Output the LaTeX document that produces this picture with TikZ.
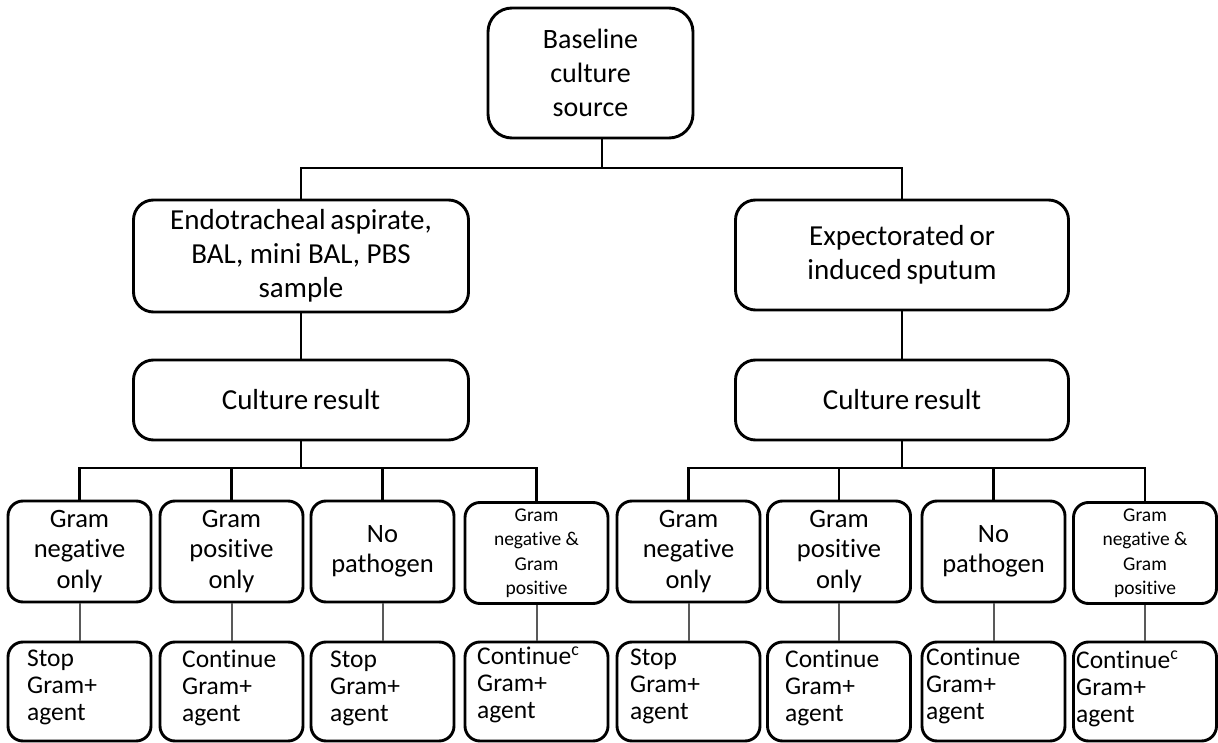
\documentclass[tikz,border=0pt]{standalone}
\usepackage{fontspec}
\setmainfont{Carlito}[Ligatures=NoCommon]
\usetikzlibrary{calc}
\begin{document}
\begin{tikzpicture}[x=1pt,y=-1pt,
  bx/.style={draw=black, line width=2.9pt, fill=white, align=center, inner sep=0pt},
  bigbox/.style={bx, rounded corners=20pt, font=\fontsize{29}{34}\selectfont},
  topbox/.style={bx, rounded corners=24pt, minimum width=205pt, minimum height=130pt, font=\fontsize{28}{34}\selectfont},
  rowa/.style={bx, rounded corners=15pt, minimum width=143pt, minimum height=101pt, font=\fontsize{26.5}{30.5}\selectfont},
  rowb/.style={bx, rounded corners=15pt, minimum width=143pt, minimum height=99pt},
  smalltxt/.style={font=\fontsize{19.5}{24.5}\selectfont},
  bt/.style={anchor=west, align=left, inner sep=0pt, font=\fontsize{25.5}{27}\selectfont},
  conn/.style={line width=2.6pt, black},
  thin/.style={line width=2pt, black!65}
]
\useasboundingbox (0,0) rectangle (1218,743);
\fill[white] (0,0) rectangle (1218,743);

% top
\node[topbox] (top) at (590.5,73) {Baseline\\culture\\source};
\node[bigbox, minimum width=335pt, minimum height=112pt] (L) at (301,256) {Endotracheal\,aspirate,\\BAL, mini BAL, PBS\\sample};
\node[bigbox, minimum width=333pt, minimum height=110pt] (R) at (902,255) {Expectorated\,or\\induced\,sputum};
\node[bigbox, minimum width=335pt, minimum height=80pt] (CL) at (301,400) {Culture\,result};
\node[bigbox, minimum width=333pt, minimum height=80pt] (CR) at (902,400) {Culture\,result};

\coordinate (j0) at (602,168);
\draw[conn] (L.north) |- (j0) -| (R.north);
\draw[conn] (j0) -- (j0 |- top.south);
\draw[conn] (L.south) -- (CL.north);
\draw[conn] (R.south) -- (CR.north);

% first result row
\node[rowa] (a1) at (79.5,551.5) {Gram\\negative\\only};
\node[rowa] (a2) at (231.5,551.5) {Gram\\positive\\only};
\node[rowa] (a3) at (382.5,551.5) {No\\pathogen};
\node[rowa, smalltxt] (a4) at (536.5,553) {Gram\\negative \&\\Gram\\positive};
\node[rowa] (a5) at (688.5,551.5) {Gram\\negative\\only};
\node[rowa] (a6) at (839,551.5) {Gram\\positive\\only};
\node[rowa] (a7) at (993.5,551.5) {No\\pathogen};
\node[rowa, smalltxt] (a8) at (1145,553) {Gram\\negative \&\\Gram\\positive};

\coordinate (jl) at (301,468);
\coordinate (jr) at (902,468);
\draw[conn] (CL.south) -- (jl);
\draw[conn] (CR.south) -- (jr);
\foreach \i in {1,2,3,4} {\draw[conn] (jl) -| (a\i.north);}
\foreach \i in {5,6,7,8} {\draw[conn] (jr) -| (a\i.north);}

% second row
\node[rowb] (b1) at (79.5,691.5) {};
\node[rowb] (b2) at (231.5,691.5) {};
\node[rowb] (b3) at (382.5,691.5) {};
\node[rowb] (b4) at (536.5,691.5) {};
\node[rowb] (b5) at (688.5,691.5) {};
\node[rowb] (b6) at (839,691.5) {};
\node[rowb] (b7) at (993.5,691.5) {};
\node[rowb] (b8) at (1145,691.5) {};

\foreach \i in {1,...,8} {\draw[thin] (a\i.south) -- (b\i.north);}

\node[bt] (t1) at (27,687) {Stop\\Gram+\\agent};
\node[bt] (t2) at (182,688) {Continue\\Gram+\\agent};
\node[bt] (t3) at (330,688) {Stop\\Gram+\\agent};
\node[bt] (t4) at (477,685) {Continue\textsuperscript{c}\\Gram+\\agent};
\node[bt] (t5) at (630,686) {Stop\\Gram+\\agent};
\node[bt] (t6) at (785,688) {Continue\\Gram+\\agent};
\node[bt] (t7) at (926,686) {Continue\\Gram+\\agent};
\node[bt] (t8) at (1076,689) {Continue\textsuperscript{c}\\Gram+\\agent};
\end{tikzpicture}
\end{document}
